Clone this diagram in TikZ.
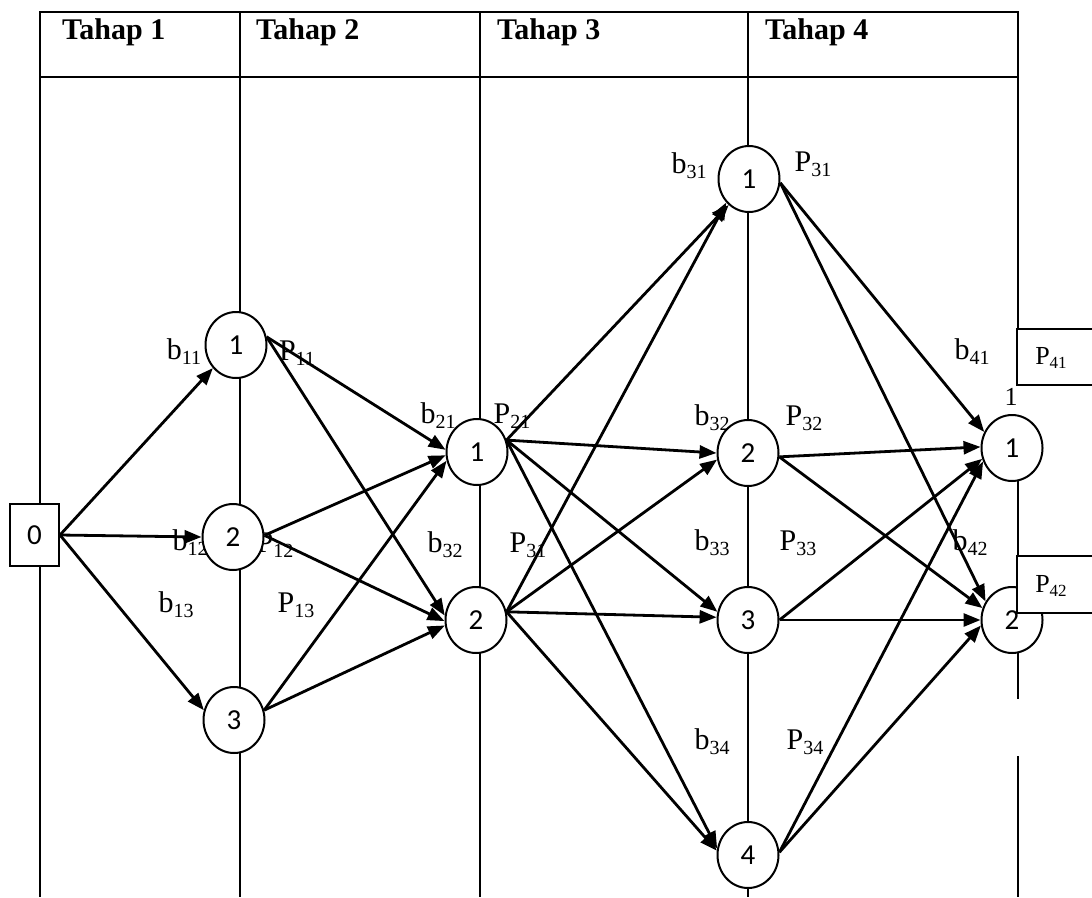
\documentclass[tikz,border=0pt]{standalone}
\usepackage{fontspec}
\setmainfont{Liberation Serif}
\newfontfamily\carlfont{Carlito}
\usetikzlibrary{arrows.meta,shapes.geometric}
\pgfdeclarelayer{bg}
\pgfsetlayers{bg,main}
\newcommand{\sbs}[1]{\raisebox{-5pt}{\fontsize{20}{22}\selectfont #1}}
\newcommand{\sbb}[1]{\raisebox{-4pt}{\fontsize{17}{19}\selectfont #1}}
\newcommand{\dg}[1]{\raisebox{-4pt}{#1}}
\begin{document}
\begin{tikzpicture}[x=1pt,y=-1pt,
  grid/.style={line width=2.2pt},
  st/.style={ellipse,draw,line width=2pt,fill=white,minimum width=61pt,minimum height=66pt,inner sep=0pt,font=\carlfont\fontsize{29}{32}\selectfont},
  lab/.style={inner sep=0pt,font=\fontsize{30}{34}\selectfont},
  blab/.style={inner sep=0pt,font=\fontsize{26}{30}\selectfont},
  hd/.style={anchor=base west,inner sep=0pt,font=\bfseries\fontsize{30}{34}\selectfont},
  ed/.style={line width=2.8pt,-{Triangle[length=17pt,width=13pt]}},
  pbox/.style={draw,line width=2pt,fill=white,inner sep=0pt,anchor=north west,minimum width=80pt}
]
\useasboundingbox (0,0) rectangle (1092,897);
\begin{pgfonlayer}{bg}
% header
\draw[grid] (40,12) rectangle (1018,77);
\draw[grid] (240,12) -- (240,77) (480,12) -- (480,77) (748,12) -- (748,77);
\node[hd] (h1) at (62,39) {Tahap 1};
\node[hd] (h2) at (256,39) {Tahap 2};
\node[hd] (h3) at (497,39) {Tahap 3};
\node[hd] (h4) at (765,39) {Tahap 4};
% column lines
\draw[grid] (40,77) -- (40,504) (40,566) -- (40,897);
\draw[grid] (240,77) -- (240,897);
\draw[grid] (480,77) -- (480,897);
\draw[grid] (748,77) -- (748,897);
\draw[grid] (1018,77) -- (1018,328) (1018,430) -- (1018,555) (1018,612) -- (1018,699) (1018,756) -- (1018,897);
% labels
\node[lab] (lb11) at (184,352) {b\sbs{11}};
\node[lab] (lp11) at (297,353) {P\sbs{11}};
\node[lab] (lb12) at (190,543) {b\sbs{12}};
\node[lab] (lp12) at (275,545) {P\sbs{12}};
\node[lab] (lb13) at (176,605) {b\sbs{13}};
\node[lab] (lp13) at (296,605) {P\sbs{13}};
\node[lab] (lb21) at (438,416) {b\sbs{21}};
\node[lab] (lp21) at (512,416) {P\sbs{21}};
\node[lab] (lb32a) at (445,545) {b\sbs{32}};
\node[lab] (lp31a) at (528,545) {P\sbs{31}};
\node[lab] (lb31) at (689,166) {b\sbs{31}};
\node[lab] (lp31) at (813,164) {P\sbs{31}};
\node[lab] (lb32) at (712,418) {b\sbs{32}};
\node[lab] (lp32) at (804,418) {P\sbs{32}};
\node[lab] (lb33) at (712,543) {b\sbs{33}};
\node[lab] (lp33) at (798,543) {P\sbs{33}};
\node[lab] (lb34) at (712,742) {b\sbs{34}};
\node[lab] (lp34) at (805,742) {P\sbs{34}};
\node[lab] (lb41) at (972,352) {b\sbs{41}};
\node[lab] (lb42) at (970,543) {b\sbs{42}};
\node[blab] (one) at (1011,397) {1};
\end{pgfonlayer}
% nodes
\node[draw,line width=2pt,fill=white,minimum width=49pt,minimum height=62pt,inner sep=0pt,font=\carlfont\fontsize{29}{32}\selectfont] (n0) at (34.5,535) {0};
\node[st] (s11) at (236,345) {\dg{1}};
\node[st] (s12) at (233,537) {\dg{2}};
\node[st] (s13) at (234,720) {\dg{3}};
\node[st] (s21) at (477,452) {\dg{1}};
\node[st] (s22) at (476,620) {\dg{2}};
\node[st] (s31) at (749,179) {\dg{1}};
\node[st] (s32) at (748,453) {\dg{2}};
\node[st] (s33) at (748,620) {\dg{3}};
\node[st] (s34) at (748,855) {\dg{4}};
\node[st] (s41) at (1012,448) {\dg{1}};
\node[st] (s42) at (1012,620) {\dg{2}};
% boxes P41, P42
\node[pbox,minimum height=56pt] (p41) at (1016,328) {};
\node[blab] (p41t) at (1051,358) {P\sbb{41}};
\node[pbox,minimum height=57pt] (p42) at (1016,555) {};
\node[blab] (p42t) at (1051,586) {P\sbb{42}};
% edges stage 1
\draw[ed] (n0.east) -- (s11.225);
\draw[ed] (n0.east) -- (s12.180);
\draw[ed] (n0.east) -- (s13.162);
% stage 1 -> 2
\draw[ed] (s11.15) -- (s21.176);
\draw[ed] (s11.15) -- (s22.172);
\draw[ed] (s12.3) -- (s21.186);
\draw[ed] (s12.3) -- (s22.182);
\draw[ed] (s13.18) -- (s21.196);
\draw[ed] (s13.18) -- (s22.190);
% stage 2 -> 3
\draw[ed] (s21.22) -- (s31.232);
\draw[ed] (s21.22) -- (s32.180);
\draw[ed] (s21.22) -- (s33.165);
\draw[ed] (s21.22) -- (s34.168);
\draw[ed] (s22.15) -- (s31.226);
\draw[ed] (s22.15) -- (s32.192);
\draw[ed] (s22.15) -- (s33.175);
\draw[ed] (s22.15) -- (s34.172);
% stage 3 -> 4
\draw[ed] (s31.353) -- (s41.150);
\draw[ed] (s31.353) -- (s42.145);
\draw[ed] (s32.353) -- (s41.178);
\draw[ed] (s32.353) -- (s42.158);
\draw[ed] (s33.0) -- (s41.200);
\draw[ed] (s33.0) -- (s42.180);
\draw[ed] (s34.5) -- (s41.205);
\draw[ed] (s34.5) -- (s42.190);
\end{tikzpicture}
\end{document}
